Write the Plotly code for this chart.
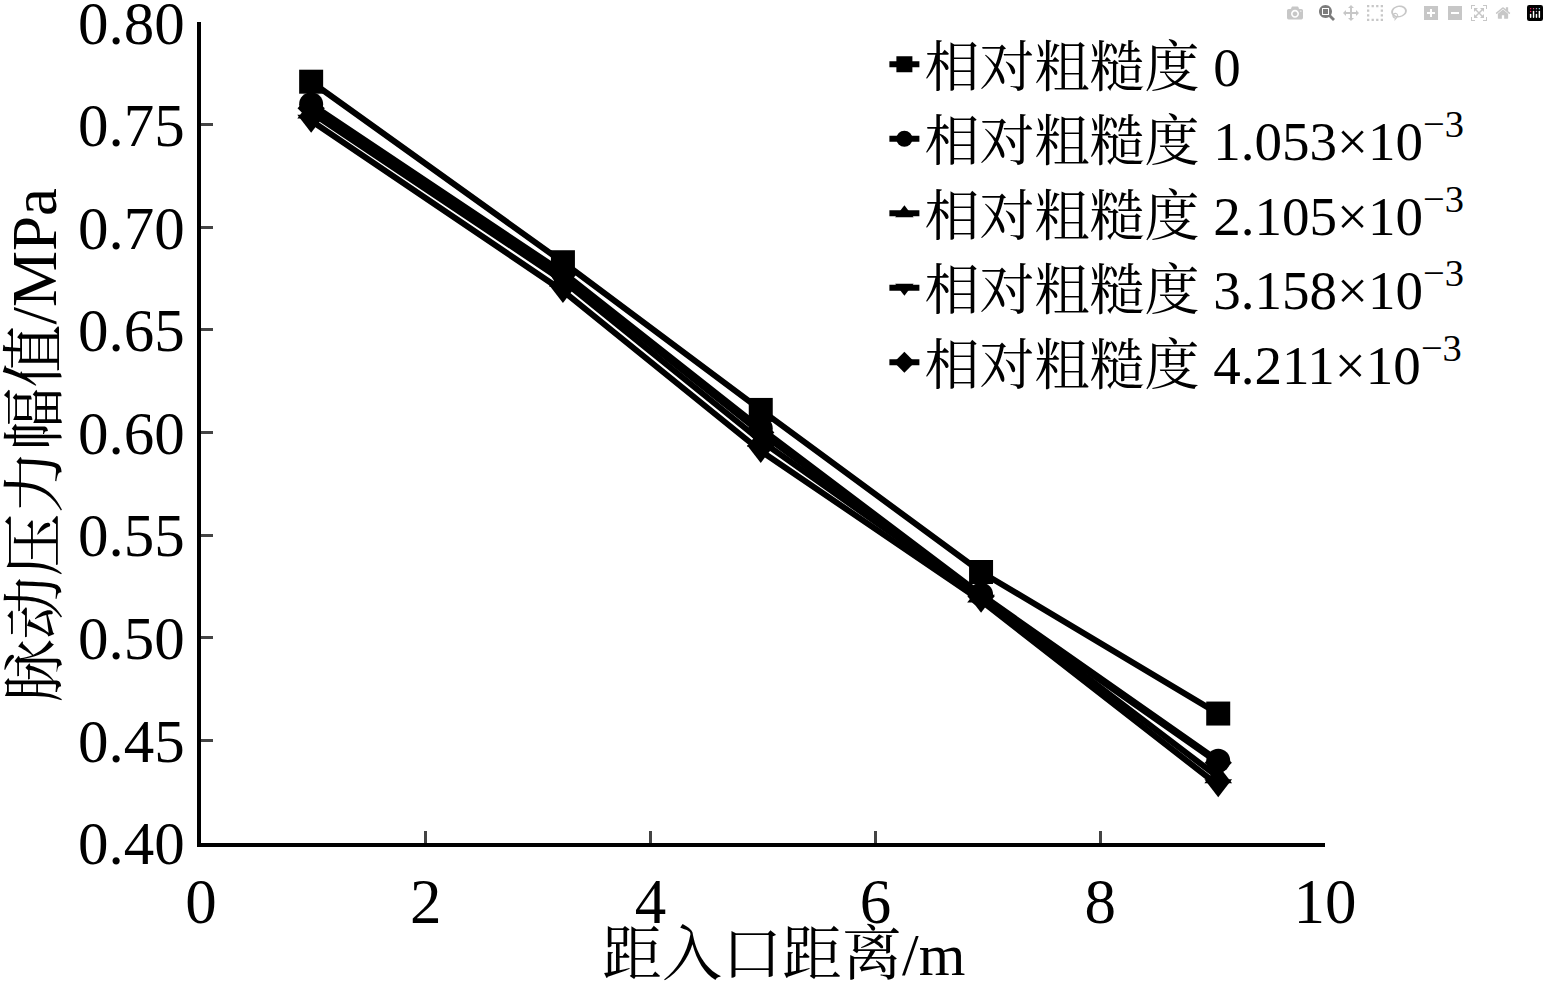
import plotly.graph_objects as go

distance = [0.98, 3.22, 4.98, 6.94, 9.05]
series_names = [
    "相对粗糙度 0",
    "相对粗糙度 1.053×10<sup>−3</sup>",
    "相对粗糙度 2.105×10<sup>−3</sup>",
    "相对粗糙度 3.158×10<sup>−3</sup>",
    "相对粗糙度 4.211×10<sup>−3</sup>",
]
rough_0 = [0.771, 0.683, 0.611, 0.532, 0.463]
rough_1053 = [0.760, 0.678, 0.602, 0.521, 0.440]
rough_2105 = [0.756, 0.674, 0.596, 0.520, 0.432]
rough_3158 = [0.752, 0.669, 0.591, 0.518, 0.428]
rough_4211 = [0.758, 0.677, 0.600, 0.520, 0.439]
symbols = ["square", "circle", "triangle-up", "triangle-down", "diamond"]
y_ticks = [0.40, 0.45, 0.50, 0.55, 0.60, 0.65, 0.70, 0.75, 0.80]
x_ticks = [0, 2, 4, 6, 8, 10]
x_title = "距入口距离/m"
y_title = "脉动压力幅值/MPa"

FONT = "Liberation Serif, Times New Roman, Noto Serif CJK SC, Noto Sans CJK SC, serif"

fig = go.Figure()
for name, ys, sym in zip(series_names,
                         [rough_0, rough_1053, rough_2105, rough_3158, rough_4211],
                         symbols):
    fig.add_trace(go.Scatter(
        x=distance, y=ys, name=name, mode="lines+markers",
        line=dict(color="black", width=6),
        marker=dict(symbol=sym, size=24 if sym != "diamond" else 21, color="black"),
    ))

fig.update_layout(
    width=1549, height=983,
    margin=dict(l=201, r=224, t=22, b=140),
    paper_bgcolor="white", plot_bgcolor="white",
    font=dict(family=FONT, size=60, color="black"),
    showlegend=True,
    legend=dict(x=0.608, y=1.0, xanchor="left", yanchor="top",
                bgcolor="rgba(0,0,0,0)", font=dict(size=55),
                tracegroupgap=0, itemwidth=30),
    annotations=[
        dict(text=x_title, xref="paper", yref="paper", x=0.518, y=-0.136,
             xanchor="center", yanchor="middle", showarrow=False,
             font=dict(size=60)),
        dict(text=y_title, xref="paper", yref="paper", x=-0.148, y=0.485,
             xanchor="center", yanchor="middle", showarrow=False, textangle=-90,
             font=dict(size=63)),
    ],
)
fig.update_xaxes(
    range=[0, 10], tickvals=x_ticks, ticks="inside", ticklen=12, tickwidth=3,
    showline=True, linecolor="black", linewidth=4, showgrid=False, zeroline=False,
    automargin=False, ticklabeloverflow="allow", tickfont=dict(size=63),
)
fig.update_yaxes(
    range=[0.3999, 0.8001], tickvals=y_ticks, tickformat=".2f", ticks="inside",
    ticklen=12, tickwidth=3, showline=True, linecolor="black", linewidth=4,
    showgrid=False, zeroline=False, automargin=False, ticklabeloverflow="allow",
    tickfont=dict(size=61),
)
fig.write_html("out.html", post_script="document.body.style.margin='0px';")
